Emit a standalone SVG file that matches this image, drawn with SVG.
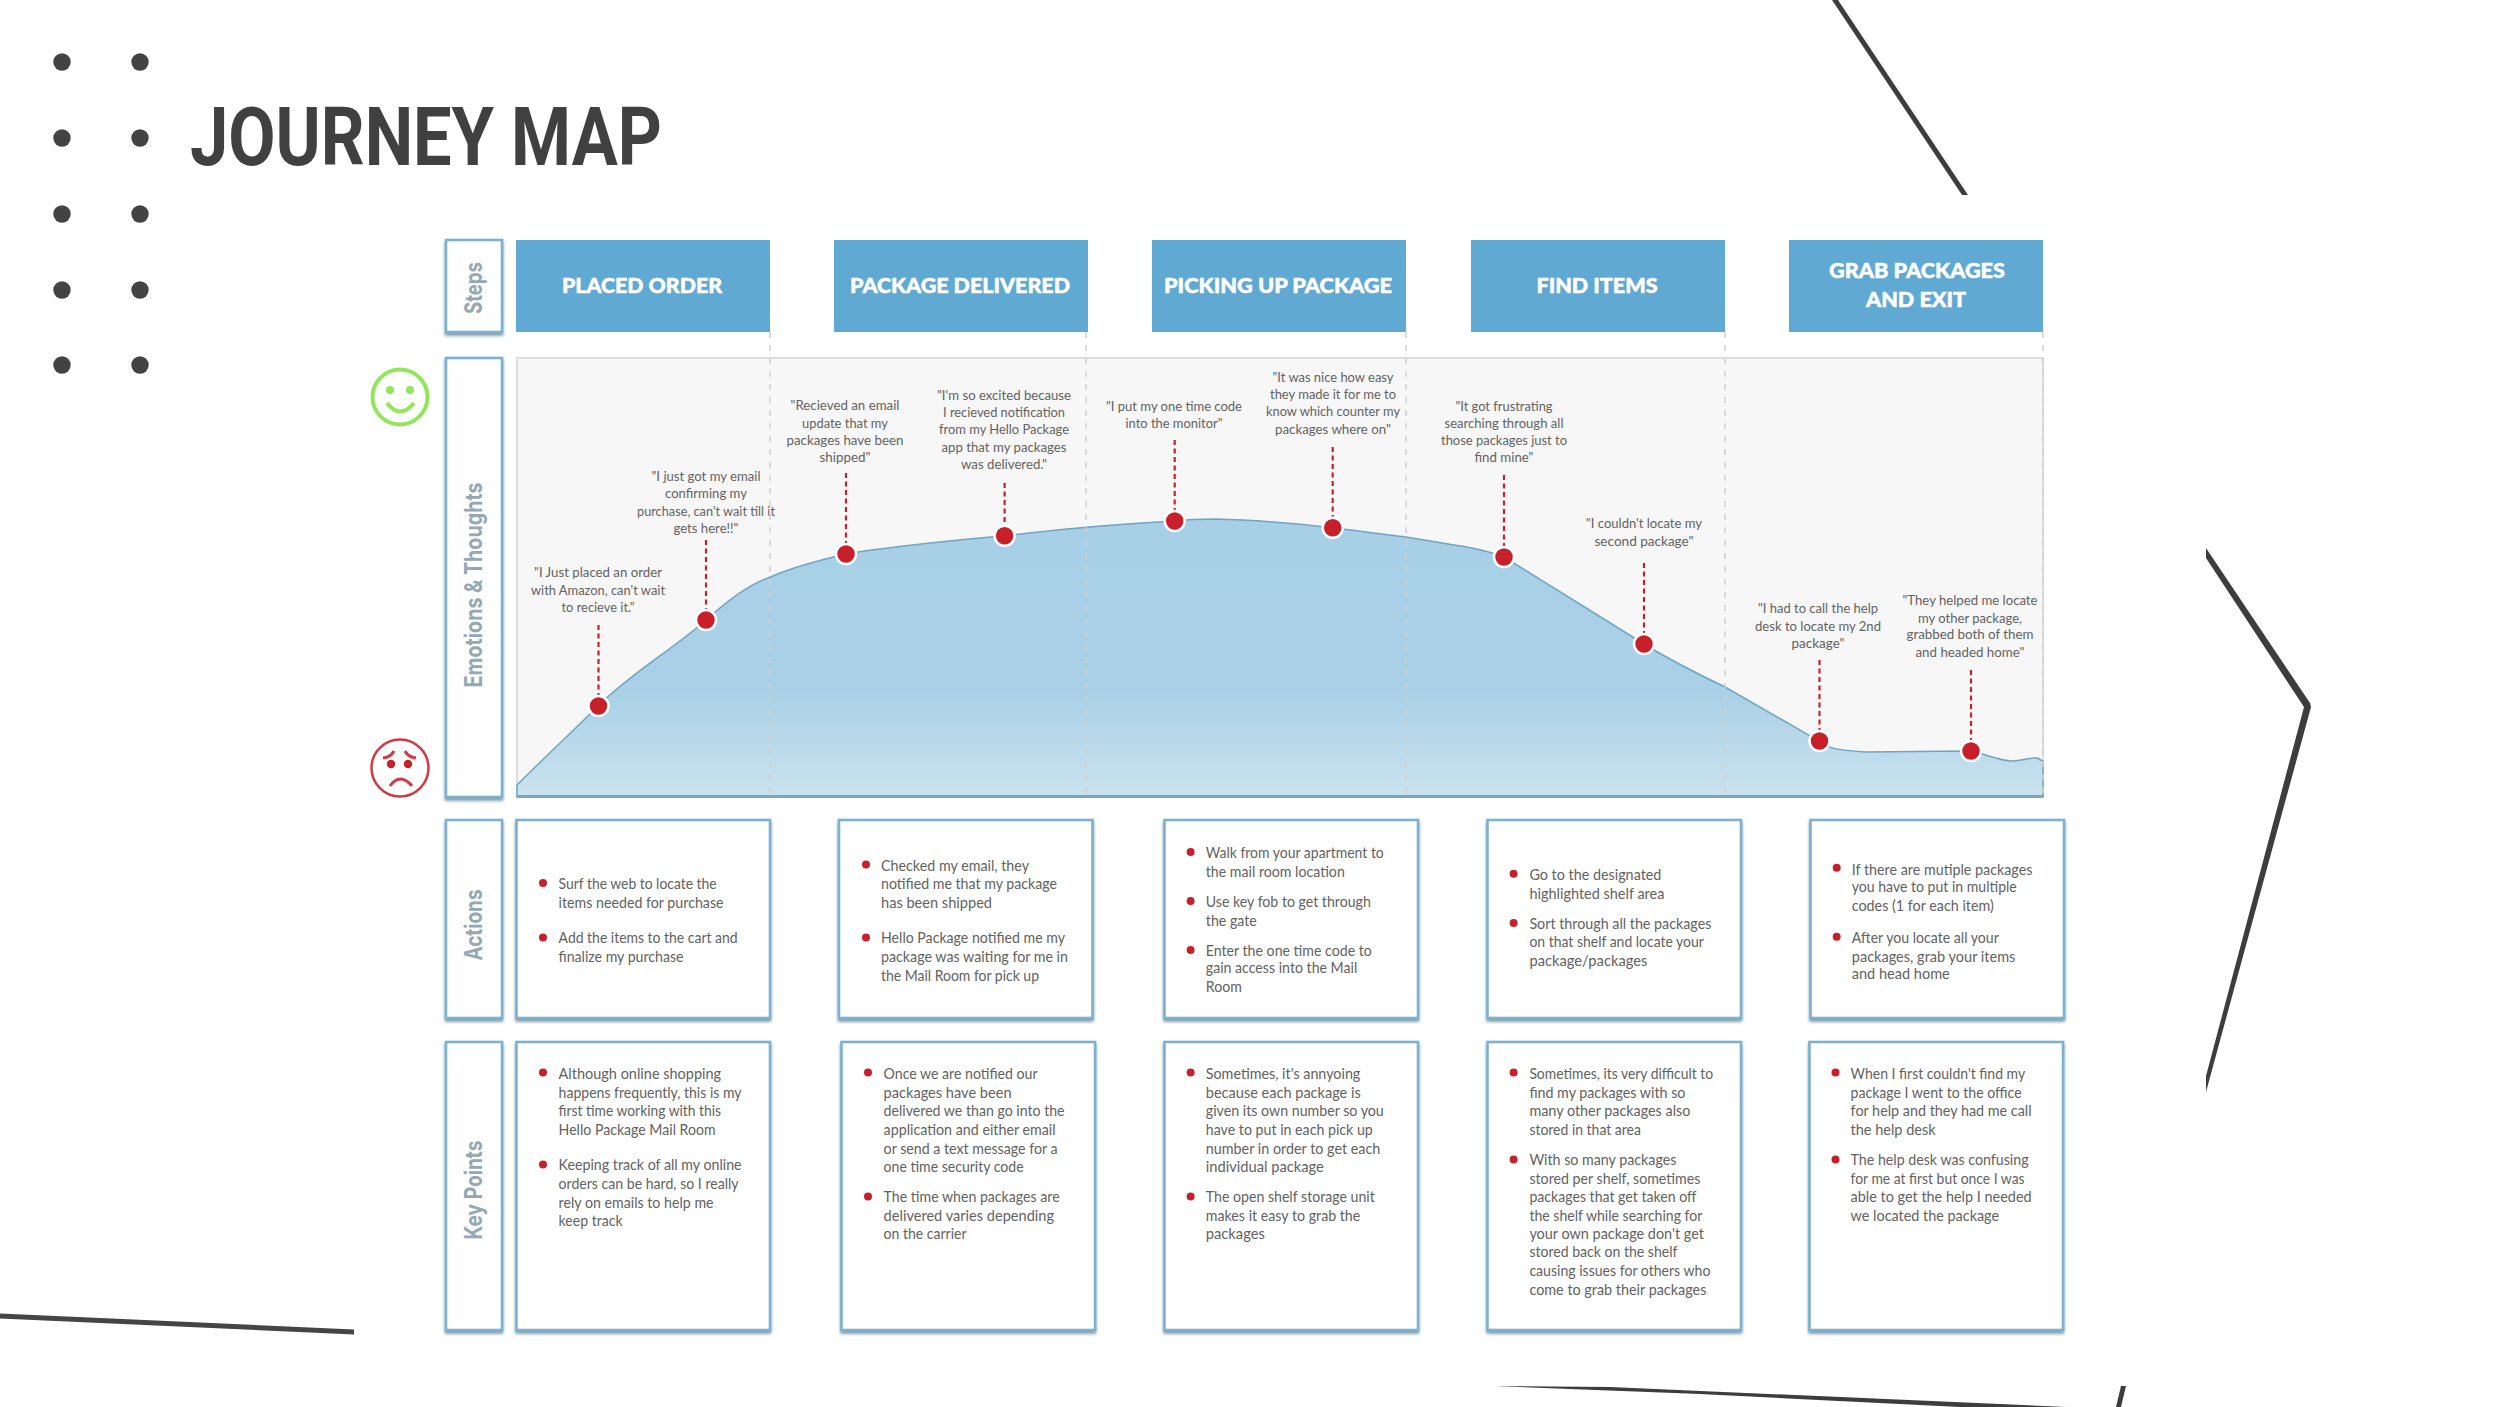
<svg xmlns="http://www.w3.org/2000/svg" width="2500" height="1407" viewBox="0 0 2500 1407">
<style>
text{font-family:"Lato","Open Sans","Liberation Sans",sans-serif}
.b{font-size:15px;fill:#626262}
.q{font-size:14px;fill:#626262;text-anchor:middle}
.h{font-size:21px;font-weight:900;fill:#fff;stroke:#fff;stroke-width:.5;text-anchor:middle}
.s{font-family:"Inter","Open Sans",sans-serif;font-size:24px;font-weight:700;fill:#93a8b3;text-anchor:middle}
.card{fill:#fff;stroke:#7bb2d0;stroke-width:2.6;filter:url(#sh)}
.hd{fill:#5fa9d3}
.dot{fill:#434343}
.pin{fill:#c8202a;stroke:#fff;stroke-width:2.5}
.bu{fill:#c8202a}
.gd{stroke:#cfcfcf;stroke-width:1.5;stroke-dasharray:6 7;fill:none}
.rd{stroke:#c8202a;stroke-width:2.2;stroke-dasharray:5 3.5;fill:none}
</style>
<defs>
<filter id="sh" x="-10%" y="-10%" width="120%" height="120%"><feDropShadow dx="0" dy="2.5" stdDeviation="1.5" flood-color="#5f7f92" flood-opacity="0.8"/></filter>
<linearGradient id="area" x1="0" y1="0" x2="0" y2="1"><stop offset="0" stop-color="#a7cfe6"/><stop offset="0.62" stop-color="#a9d0e6"/><stop offset="1" stop-color="#cbe3ef"/></linearGradient>
</defs>
<rect width="2500" height="1407" fill="#fff"/>

<g id="deco-dots">
<circle class="dot" cx="62" cy="62" r="8.7"/><circle class="dot" cx="140" cy="62" r="8.7"/>
<circle class="dot" cx="62" cy="138" r="8.7"/><circle class="dot" cx="140" cy="138" r="8.7"/>
<circle class="dot" cx="62" cy="214" r="8.7"/><circle class="dot" cx="140" cy="214" r="8.7"/>
<circle class="dot" cx="62" cy="290" r="8.7"/><circle class="dot" cx="140" cy="290" r="8.7"/>
<circle class="dot" cx="62" cy="365" r="8.7"/><circle class="dot" cx="140" cy="365" r="8.7"/>
</g>
<g id="deco-lines">
<polygon points="1832,0 1838,0 1968,195 1962,195" fill="#3d3d3d"/>
<polygon points="2206,548 2310,703 2311,707 2206,1092 2206,1076 2304,707 2206,558" fill="#3d3d3d"/>
<polygon points="0,1313.5 354,1329.5 354,1334.5 0,1318.5" fill="#454545"/>
<polygon points="1494,1386 1610,1387 2066,1407 1960,1407 1700,1394" fill="#3d3d3d"/>
<polygon points="2121,1386 2126,1386 2121,1407 2116,1407" fill="#3d3d3d"/>
</g>

<text id="title" x="190" y="165" textLength="472" lengthAdjust="spacingAndGlyphs" style="font-family:'Roboto','Liberation Sans',sans-serif;font-size:82px;font-weight:700;fill:#404040">JOURNEY MAP</text>

<g id="label-steps"><rect class="card" x="446" y="240" width="56" height="92"/><text class="s" transform="translate(482,288) rotate(-90)" textLength="52" lengthAdjust="spacingAndGlyphs">Steps</text></g>
<g id="label-emotions"><rect class="card" x="446" y="358" width="56" height="439"/><text class="s" transform="translate(482,585) rotate(-90)" textLength="205" lengthAdjust="spacingAndGlyphs">Emotions &amp; Thoughts</text></g>
<g id="label-actions"><rect class="card" x="446" y="820" width="56" height="198"/><text class="s" transform="translate(482,925) rotate(-90)" textLength="71" lengthAdjust="spacingAndGlyphs">Actions</text></g>
<g id="label-keypoints"><rect class="card" x="446" y="1042" width="56" height="288"/><text class="s" transform="translate(482,1190) rotate(-90)" textLength="99" lengthAdjust="spacingAndGlyphs">Key Points</text></g>

<g id="step-placed-order"><rect class="hd" x="516" y="240" width="254" height="92"/><text class="h" x="642" y="293" textLength="160" lengthAdjust="spacingAndGlyphs">PLACED ORDER</text></g>
<g id="step-package-delivered"><rect class="hd" x="834" y="240" width="254" height="92"/><text class="h" x="960" y="293" textLength="220" lengthAdjust="spacingAndGlyphs">PACKAGE DELIVERED</text></g>
<g id="step-picking-up"><rect class="hd" x="1152" y="240" width="254" height="92"/><text class="h" x="1278" y="293" textLength="228" lengthAdjust="spacingAndGlyphs">PICKING UP PACKAGE</text></g>
<g id="step-find-items"><rect class="hd" x="1471" y="240" width="254" height="92"/><text class="h" x="1597" y="293" textLength="121" lengthAdjust="spacingAndGlyphs">FIND ITEMS</text></g>
<g id="step-grab"><rect class="hd" x="1789" y="240" width="254" height="92"/><text class="h" x="1917" y="278" textLength="176" lengthAdjust="spacingAndGlyphs">GRAB PACKAGES</text><text class="h" x="1916" y="307" textLength="100" lengthAdjust="spacingAndGlyphs">AND EXIT</text></g>

<g id="face-happy" fill="none" stroke="#93e65a" stroke-width="4">
<circle cx="400" cy="397" r="27.5"/>
<circle cx="390" cy="390" r="4" fill="#93e65a" stroke="none"/><circle cx="410" cy="390" r="4" fill="#93e65a" stroke="none"/>
<path d="M387 403 Q400 420 414 403"/>
</g>
<g id="face-sad" fill="none" stroke="#cf3a44" stroke-width="2.5">
<circle cx="400" cy="768" r="28.5"/>
<circle cx="391" cy="764" r="4.2" fill="#c8202a" stroke="none"/><circle cx="408" cy="764" r="4.2" fill="#c8202a" stroke="none"/>
<path d="M383 758 Q391 757 394 751M416 758 Q408 757 405 751" stroke-width="3"/>
<path d="M390 786 Q400 772 412 786" stroke-width="3"/>
</g>

<g id="chart">
<rect x="517" y="358" width="1526" height="439" fill="#f7f7f7" stroke="#dedede" stroke-width="2"/>
<path d="M517,785 L517,785 C545,757 572,732 598,706 C634,671 672,650 706,620 C728,600 750,584 768,578 C790,568 820,560 846,554 C900,545 950,541 1005,535.7 C1060,529 1120,524 1175,521 C1190,519 1205,519 1216,519 C1260,520 1300,524 1333,527.7 C1360,531 1385,535 1406,537 C1430,541 1450,544 1467,547 C1482,550 1494,553 1504,557 L1644,644 C1670,660 1700,675 1725,687 L1819,741 C1828,748 1835,750 1865,752 L1971,751 C1985,754 2000,761 2012,761 C2022,761 2030,757 2037,758 L2043,761 L2043,797 L517,797 Z" fill="url(#area)" stroke="#6fa5c0" stroke-width="1.5"/>
<rect x="517" y="795" width="1526" height="3" fill="#7ea6ba"/>
<text class="q" x="598" y="577" textLength="128" lengthAdjust="spacingAndGlyphs">"I Just placed an order</text>
<text class="q" x="598" y="595" textLength="134" lengthAdjust="spacingAndGlyphs">with Amazon, can't wait</text>
<text class="q" x="598" y="612" textLength="73" lengthAdjust="spacingAndGlyphs">to recieve it."</text>
<text class="q" x="706" y="481" textLength="109" lengthAdjust="spacingAndGlyphs">"I just got my email</text>
<text class="q" x="706" y="498" textLength="82" lengthAdjust="spacingAndGlyphs">confirming my</text>
<text class="q" x="706" y="516" textLength="138" lengthAdjust="spacingAndGlyphs">purchase, can't wait till it</text>
<text class="q" x="706" y="533" textLength="65" lengthAdjust="spacingAndGlyphs">gets here!!"</text>
<text class="q" x="845" y="410" textLength="109" lengthAdjust="spacingAndGlyphs">"Recieved an email</text>
<text class="q" x="845" y="428" textLength="86" lengthAdjust="spacingAndGlyphs">update that my</text>
<text class="q" x="845" y="445" textLength="117" lengthAdjust="spacingAndGlyphs">packages have been</text>
<text class="q" x="845" y="462" textLength="51" lengthAdjust="spacingAndGlyphs">shipped"</text>
<text class="q" x="1004" y="400" textLength="134" lengthAdjust="spacingAndGlyphs">"I'm so excited because</text>
<text class="q" x="1004" y="417" textLength="122" lengthAdjust="spacingAndGlyphs">I recieved notification</text>
<text class="q" x="1004" y="434" textLength="130" lengthAdjust="spacingAndGlyphs">from my Hello Package</text>
<text class="q" x="1004" y="452" textLength="125" lengthAdjust="spacingAndGlyphs">app that my packages</text>
<text class="q" x="1004" y="469" textLength="86" lengthAdjust="spacingAndGlyphs">was delivered."</text>
<text class="q" x="1174" y="411" textLength="136" lengthAdjust="spacingAndGlyphs">"I put my one time code</text>
<text class="q" x="1174" y="428" textLength="97" lengthAdjust="spacingAndGlyphs">into the monitor"</text>
<text class="q" x="1333" y="382" textLength="121" lengthAdjust="spacingAndGlyphs">"It was nice how easy</text>
<text class="q" x="1333" y="399" textLength="126" lengthAdjust="spacingAndGlyphs">they made it for me to</text>
<text class="q" x="1333" y="416" textLength="134" lengthAdjust="spacingAndGlyphs">know which counter my</text>
<text class="q" x="1333" y="434" textLength="116" lengthAdjust="spacingAndGlyphs">packages where on"</text>
<text class="q" x="1504" y="411" textLength="97" lengthAdjust="spacingAndGlyphs">"It got frustrating</text>
<text class="q" x="1504" y="428" textLength="119" lengthAdjust="spacingAndGlyphs">searching through all</text>
<text class="q" x="1504" y="445" textLength="126" lengthAdjust="spacingAndGlyphs">those packages just to</text>
<text class="q" x="1504" y="462" textLength="59" lengthAdjust="spacingAndGlyphs">find mine"</text>
<text class="q" x="1644" y="528" textLength="116" lengthAdjust="spacingAndGlyphs">"I couldn't locate my</text>
<text class="q" x="1644" y="546" textLength="99" lengthAdjust="spacingAndGlyphs">second package"</text>
<text class="q" x="1818" y="613" textLength="120" lengthAdjust="spacingAndGlyphs">"I had to call the help</text>
<text class="q" x="1818" y="631" textLength="126" lengthAdjust="spacingAndGlyphs">desk to locate my 2nd</text>
<text class="q" x="1818" y="648" textLength="53" lengthAdjust="spacingAndGlyphs">package"</text>
<text class="q" x="1970" y="605" textLength="135" lengthAdjust="spacingAndGlyphs">"They helped me locate</text>
<text class="q" x="1970" y="623" textLength="104" lengthAdjust="spacingAndGlyphs">my other package,</text>
<text class="q" x="1970" y="639" textLength="127" lengthAdjust="spacingAndGlyphs">grabbed both of them</text>
<text class="q" x="1970" y="657" textLength="109" lengthAdjust="spacingAndGlyphs">and headed home"</text>
</g>

<g id="connectors">
<path class="gd" d="M770 332V797M1086 332V797M1406 332V797M1725 332V797M2043 332V797"/>
<path class="rd" d="M598.5 625V697M706 540V610M846 473V545M1004.6 483V525M1174.7 440V510M1332.7 447V517M1504 475V547M1644 563V635M1819.5 660V732M1971 670V742"/>
</g>

<g id="emotion-points">
<circle class="pin" cx="598.5" cy="706" r="10"/><circle class="pin" cx="706" cy="620" r="10"/><circle class="pin" cx="846" cy="554" r="10"/><circle class="pin" cx="1004.6" cy="535.7" r="10"/><circle class="pin" cx="1174.7" cy="521" r="10"/><circle class="pin" cx="1332.7" cy="527.7" r="10"/><circle class="pin" cx="1504" cy="557" r="10"/><circle class="pin" cx="1644" cy="644" r="10"/><circle class="pin" cx="1819.5" cy="741" r="10"/><circle class="pin" cx="1971" cy="751" r="10"/>
</g>

<g id="action-1"><rect class="card" x="516.5" y="820" width="253.5" height="198"/>
<circle class="bu" cx="543" cy="883" r="4"/><circle class="bu" cx="543" cy="937.5" r="4"/>
<text class="b" x="558.6" y="888.5" textLength="158" lengthAdjust="spacingAndGlyphs">Surf the web to locate the</text>
<text class="b" x="558.6" y="908" textLength="165" lengthAdjust="spacingAndGlyphs">items needed for purchase</text>
<text class="b" x="558.6" y="943" textLength="179" lengthAdjust="spacingAndGlyphs">Add the items to the cart and</text>
<text class="b" x="558.6" y="962" textLength="125" lengthAdjust="spacingAndGlyphs">finalize my purchase</text></g>

<g id="action-2"><rect class="card" x="839" y="820" width="253.5" height="198"/>
<circle class="bu" cx="866" cy="864.6" r="4"/><circle class="bu" cx="866" cy="937.5" r="4"/>
<text class="b" x="881" y="870.6" textLength="148" lengthAdjust="spacingAndGlyphs">Checked my email, they</text>
<text class="b" x="881" y="889" textLength="176" lengthAdjust="spacingAndGlyphs">notified me that my package</text>
<text class="b" x="881" y="908" textLength="111" lengthAdjust="spacingAndGlyphs">has been shipped</text>
<text class="b" x="881" y="943" textLength="184" lengthAdjust="spacingAndGlyphs">Hello Package notified me my</text>
<text class="b" x="881" y="962" textLength="187" lengthAdjust="spacingAndGlyphs">package was waiting for me in</text>
<text class="b" x="881" y="981" textLength="158" lengthAdjust="spacingAndGlyphs">the Mail Room for pick up</text></g>

<g id="action-3"><rect class="card" x="1164.5" y="820" width="253.5" height="198"/>
<circle class="bu" cx="1190.6" cy="852" r="4"/><circle class="bu" cx="1190.6" cy="901" r="4"/><circle class="bu" cx="1190.6" cy="950" r="4"/>
<text class="b" x="1205.8" y="857.6" textLength="178" lengthAdjust="spacingAndGlyphs">Walk from your apartment to</text>
<text class="b" x="1205.8" y="877" textLength="139" lengthAdjust="spacingAndGlyphs">the mail room location</text>
<text class="b" x="1205.8" y="907" textLength="165" lengthAdjust="spacingAndGlyphs">Use key fob to get through</text>
<text class="b" x="1205.8" y="925.7" textLength="51" lengthAdjust="spacingAndGlyphs">the gate</text>
<text class="b" x="1205.8" y="955.5" textLength="166" lengthAdjust="spacingAndGlyphs">Enter the one time code to</text>
<text class="b" x="1205.8" y="973.4" textLength="151.5" lengthAdjust="spacingAndGlyphs">gain access into the Mail</text>
<text class="b" x="1205.8" y="992" textLength="36" lengthAdjust="spacingAndGlyphs">Room</text></g>

<g id="action-4"><rect class="card" x="1487.5" y="820" width="253.5" height="198"/>
<circle class="bu" cx="1513.6" cy="873.7" r="4"/><circle class="bu" cx="1513.6" cy="923" r="4"/>
<text class="b" x="1529.4" y="879.7" textLength="132" lengthAdjust="spacingAndGlyphs">Go to the designated</text>
<text class="b" x="1529.4" y="899" textLength="135" lengthAdjust="spacingAndGlyphs">highlighted shelf area</text>
<text class="b" x="1529.4" y="929" textLength="182" lengthAdjust="spacingAndGlyphs">Sort through all the packages</text>
<text class="b" x="1529.4" y="946.8" textLength="174.5" lengthAdjust="spacingAndGlyphs">on that shelf and locate your</text>
<text class="b" x="1529.4" y="965.7" textLength="118" lengthAdjust="spacingAndGlyphs">package/packages</text></g>

<g id="action-5"><rect class="card" x="1810.5" y="820" width="253.5" height="198"/>
<circle class="bu" cx="1836.7" cy="867.7" r="4"/><circle class="bu" cx="1836.7" cy="936.8" r="4"/>
<text class="b" x="1851.8" y="874.8" textLength="180.6" lengthAdjust="spacingAndGlyphs">If there are mutiple packages</text>
<text class="b" x="1851.8" y="892.4" textLength="165" lengthAdjust="spacingAndGlyphs">you have to put in multiple</text>
<text class="b" x="1851.8" y="911" textLength="142" lengthAdjust="spacingAndGlyphs">codes (1 for each item)</text>
<text class="b" x="1851.8" y="942.5" textLength="147" lengthAdjust="spacingAndGlyphs">After you locate all your</text>
<text class="b" x="1851.8" y="961.5" textLength="163.6" lengthAdjust="spacingAndGlyphs">packages, grab your items</text>
<text class="b" x="1851.8" y="979" textLength="98" lengthAdjust="spacingAndGlyphs">and head home</text></g>

<g id="key-1"><rect class="card" x="516.5" y="1042" width="253.5" height="288"/>
<circle class="bu" cx="543" cy="1072.6" r="4"/><circle class="bu" cx="543" cy="1164.6" r="4"/>
<text class="b" x="558.6" y="1079" textLength="162.5" lengthAdjust="spacingAndGlyphs">Although online shopping</text>
<text class="b" x="558.6" y="1098" textLength="183" lengthAdjust="spacingAndGlyphs">happens frequently, this is my</text>
<text class="b" x="558.6" y="1115.5" textLength="162.5" lengthAdjust="spacingAndGlyphs">first time working with this</text>
<text class="b" x="558.6" y="1135" textLength="157" lengthAdjust="spacingAndGlyphs">Hello Package Mail Room</text>
<text class="b" x="558.6" y="1170" textLength="183" lengthAdjust="spacingAndGlyphs">Keeping track of all my online</text>
<text class="b" x="558.6" y="1189" textLength="180" lengthAdjust="spacingAndGlyphs">orders can be hard, so I really</text>
<text class="b" x="558.6" y="1208" textLength="155" lengthAdjust="spacingAndGlyphs">rely on emails to help me</text>
<text class="b" x="558.6" y="1226" textLength="64" lengthAdjust="spacingAndGlyphs">keep track</text></g>

<g id="key-2"><rect class="card" x="841.5" y="1042" width="253.5" height="288"/>
<circle class="bu" cx="868" cy="1072.6" r="4"/><circle class="bu" cx="868" cy="1196.5" r="4"/>
<text class="b" x="883.6" y="1079" textLength="154" lengthAdjust="spacingAndGlyphs">Once we are notified our</text>
<text class="b" x="883.6" y="1098" textLength="128" lengthAdjust="spacingAndGlyphs">packages have been</text>
<text class="b" x="883.6" y="1115.5" textLength="181" lengthAdjust="spacingAndGlyphs">delivered we than go into the</text>
<text class="b" x="883.6" y="1135" textLength="172" lengthAdjust="spacingAndGlyphs">application and either email</text>
<text class="b" x="883.6" y="1153.5" textLength="174" lengthAdjust="spacingAndGlyphs">or send a text message for a</text>
<text class="b" x="883.6" y="1172" textLength="140" lengthAdjust="spacingAndGlyphs">one time security code</text>
<text class="b" x="883.6" y="1201.5" textLength="176" lengthAdjust="spacingAndGlyphs">The time when packages are</text>
<text class="b" x="883.6" y="1220.5" textLength="170.5" lengthAdjust="spacingAndGlyphs">delivered varies depending</text>
<text class="b" x="883.6" y="1239" textLength="83" lengthAdjust="spacingAndGlyphs">on the carrier</text></g>

<g id="key-3"><rect class="card" x="1164.5" y="1042" width="253.5" height="288"/>
<circle class="bu" cx="1190.6" cy="1072.6" r="4"/><circle class="bu" cx="1190.6" cy="1196.5" r="4"/>
<text class="b" x="1205.8" y="1079" textLength="154.5" lengthAdjust="spacingAndGlyphs">Sometimes, it's annyoing</text>
<text class="b" x="1205.8" y="1098" textLength="155" lengthAdjust="spacingAndGlyphs">because each package is</text>
<text class="b" x="1205.8" y="1116" textLength="178" lengthAdjust="spacingAndGlyphs">given its own number so you</text>
<text class="b" x="1205.8" y="1135" textLength="167" lengthAdjust="spacingAndGlyphs">have to put in each pick up</text>
<text class="b" x="1205.8" y="1153.5" textLength="174.5" lengthAdjust="spacingAndGlyphs">number in order to get each</text>
<text class="b" x="1205.8" y="1172" textLength="118" lengthAdjust="spacingAndGlyphs">individual package</text>
<text class="b" x="1205.8" y="1201.5" textLength="169" lengthAdjust="spacingAndGlyphs">The open shelf storage unit</text>
<text class="b" x="1205.8" y="1220.5" textLength="154.5" lengthAdjust="spacingAndGlyphs">makes it easy to grab the</text>
<text class="b" x="1205.8" y="1239" textLength="59" lengthAdjust="spacingAndGlyphs">packages</text></g>

<g id="key-4"><rect class="card" x="1487.5" y="1042" width="253.5" height="288"/>
<circle class="bu" cx="1513.6" cy="1072.6" r="4"/><circle class="bu" cx="1513.6" cy="1159.6" r="4"/>
<text class="b" x="1529.4" y="1079" textLength="183.6" lengthAdjust="spacingAndGlyphs">Sometimes, its very difficult to</text>
<text class="b" x="1529.4" y="1098" textLength="156" lengthAdjust="spacingAndGlyphs">find my packages with so</text>
<text class="b" x="1529.4" y="1116" textLength="161" lengthAdjust="spacingAndGlyphs">many other packages also</text>
<text class="b" x="1529.4" y="1135" textLength="111.5" lengthAdjust="spacingAndGlyphs">stored in that area</text>
<text class="b" x="1529.4" y="1165" textLength="147" lengthAdjust="spacingAndGlyphs">With so many packages</text>
<text class="b" x="1529.4" y="1184" textLength="171" lengthAdjust="spacingAndGlyphs">stored per shelf, sometimes</text>
<text class="b" x="1529.4" y="1201.5" textLength="167" lengthAdjust="spacingAndGlyphs">packages that get taken off</text>
<text class="b" x="1529.4" y="1220.5" textLength="173" lengthAdjust="spacingAndGlyphs">the shelf while searching for</text>
<text class="b" x="1529.4" y="1239" textLength="174.5" lengthAdjust="spacingAndGlyphs">your own package don't get</text>
<text class="b" x="1529.4" y="1257" textLength="148" lengthAdjust="spacingAndGlyphs">stored back on the shelf</text>
<text class="b" x="1529.4" y="1276" textLength="181" lengthAdjust="spacingAndGlyphs">causing issues for others who</text>
<text class="b" x="1529.4" y="1295" textLength="177" lengthAdjust="spacingAndGlyphs">come to grab their packages</text></g>

<g id="key-5"><rect class="card" x="1809.5" y="1042" width="253.5" height="288"/>
<circle class="bu" cx="1835.5" cy="1072.6" r="4"/><circle class="bu" cx="1835.5" cy="1159.6" r="4"/>
<text class="b" x="1850.6" y="1079" textLength="174.5" lengthAdjust="spacingAndGlyphs">When I first couldn't find my</text>
<text class="b" x="1850.6" y="1098" textLength="171" lengthAdjust="spacingAndGlyphs">package I went to the office</text>
<text class="b" x="1850.6" y="1116" textLength="181" lengthAdjust="spacingAndGlyphs">for help and they had me call</text>
<text class="b" x="1850.6" y="1135" textLength="85" lengthAdjust="spacingAndGlyphs">the help desk</text>
<text class="b" x="1850.6" y="1165" textLength="178" lengthAdjust="spacingAndGlyphs">The help desk was confusing</text>
<text class="b" x="1850.6" y="1184" textLength="174" lengthAdjust="spacingAndGlyphs">for me at first but once I was</text>
<text class="b" x="1850.6" y="1201.5" textLength="181" lengthAdjust="spacingAndGlyphs">able to get the help I needed</text>
<text class="b" x="1850.6" y="1220.5" textLength="148.5" lengthAdjust="spacingAndGlyphs">we located the package</text></g>
</svg>
